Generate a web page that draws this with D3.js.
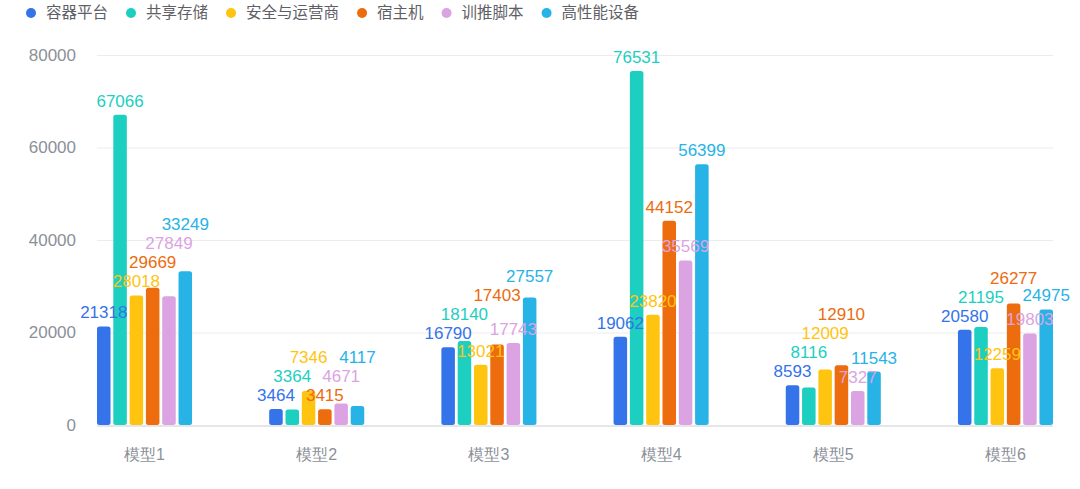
<!DOCTYPE html>
<html>
<head>
<meta charset="utf-8">
<script src="https://cdn.jsdelivr.net/npm/d3@7"></script>
<style>
  body { margin: 0; background: #fff; }
  svg { display: block; font-family: "Liberation Sans", "Noto Sans CJK SC", sans-serif; }
  .grid line { stroke: #ececec; }
  .grid .domain { display: none; }
</style>
</head>
<body>
<div id="chart"></div>
<script>
// categories and series
var models = ["模型1", "模型2", "模型3", "模型4", "模型5", "模型6"];
var seriesNames = ["容器平台", "共享存储", "安全与运营商", "宿主机", "训推脚本", "高性能设备"];
var colors = ["#3473ea", "#1dcfc0", "#ffc410", "#ec6c0e", "#dca3e3", "#27b3e6"];

// note: "sharedStorage" is taken by the browser (window.sharedStorage)
var containerVals = [21318, 3464, 16790, 19062, 8593, 20580];
var storageVals   = [67066, 3364, 18140, 76531, 8116, 21195];
var securityVals  = [28018, 7346, 13021, 23820, 12009, 12259];
var hostVals      = [29669, 3415, 17403, 44152, 12910, 26277];
var scriptVals    = [27849, 4671, 17743, 35569, 7327, 19803];
var hpcVals       = [33249, 4117, 27557, 56399, 11543, 24975];
var yTicks = [0, 20000, 40000, 60000, 80000];

var allSeries = [containerVals, storageVals, securityVals, hostVals, scriptVals, hpcVals];

var W = 1080, H = 489;
var svg = d3.select("#chart").append("svg").attr("width", W).attr("height", H);

//----------------SCALES----------------//
var plotLeft = 97, plotRight = 1053;
var x0 = d3.scaleBand()
  .domain(models)
  .range([plotLeft, plotRight])
  .paddingInner(0.448)
  .paddingOuter(0);

var x1 = d3.scaleBand()
  .domain(d3.range(seriesNames.length))
  .range([0, x0.bandwidth()])
  .paddingInner(0.17);

var y = d3.scaleLinear().domain([0, 80000]).range([425, 55]);

//----------------GRID + AXES----------------//
svg.append("g")
  .attr("class", "grid")
  .attr("transform", "translate(" + plotLeft + ",0)")
  .call(d3.axisLeft(y).tickValues(yTicks.slice(1)).tickFormat("").tickSize(-(plotRight - plotLeft)));

svg.append("line")
  .attr("x1", plotLeft).attr("x2", plotRight)
  .attr("y1", y(0) + 1).attr("y2", y(0) + 1)
  .attr("stroke", "#e6e6e6").attr("stroke-width", 2);

var yAxis = svg.append("g")
  .attr("transform", "translate(76,0)")
  .call(d3.axisLeft(y).tickValues(yTicks).tickFormat(d3.format("d")).tickSize(0).tickPadding(0));
yAxis.select(".domain").remove();
yAxis.selectAll("text")
  .attr("fill", "#8c9099")
  .style("font-size", "17px")
  .style("font-family", "inherit");

var xAxis = svg.append("g")
  .attr("transform", "translate(0," + (y(0) + 24) + ")")
  .call(d3.axisBottom(x0).tickSize(0).tickPadding(0));
xAxis.select(".domain").remove();
xAxis.selectAll("text")
  .attr("fill", "#8c9099")
  .style("font-size", "16px")
  .style("font-family", "inherit");

//----------------BARS----------------//
var groups = svg.selectAll(".group")
  .data(models)
  .enter().append("g")
  .attr("class", "group")
  .attr("transform", function(d) { return "translate(" + x0(d) + ",0)"; });

groups.selectAll("rect")
  .data(function(d, i) {
    return allSeries.map(function(vals, k) { return { k: k, v: vals[i] }; });
  })
  .enter().append("rect")
  .attr("x", function(d) { return x1(d.k); })
  .attr("y", function(d) { return y(d.v); })
  .attr("width", x1.bandwidth())
  .attr("height", function(d) { return y(0) - y(d.v); })
  .attr("rx", 2.5)
  .attr("fill", function(d) { return colors[d.k]; });

//----------------LABELS (dodge upward on overlap)----------------//
var hitY = 16.5, stepY = 19;
models.forEach(function(m, i) {
  var placed = [];
  allSeries.forEach(function(vals, k) {
    var v = vals[i];
    var cx = x0(m) + x1(k) + x1.bandwidth() / 2;
    var t = svg.append("text")
      .attr("x", cx)
      .attr("text-anchor", "middle")
      .attr("fill", colors[k])
      .style("font-size", "17px")
      .text(v);
    var w = t.node().getComputedTextLength();
    var ly = y(v) - 8;
    var moved = true;
    while (moved) {
      moved = false;
      placed.forEach(function(p) {
        if (Math.abs(p.x - cx) < (p.w + w) / 2 && Math.abs(p.y - ly) < hitY) {
          ly = p.y - stepY;
          moved = true;
        }
      });
    }
    t.attr("y", ly);
    placed.push({ x: cx, y: ly, w: w });
  });
});

//----------------LEGEND----------------//
var legend = svg.append("g").attr("transform", "translate(0,13)");
var lx = 31;
seriesNames.forEach(function(s, k) {
  var item = legend.append("g").attr("transform", "translate(" + lx + ",0)");
  item.append("circle").attr("r", 5).attr("fill", colors[k]);
  var t = item.append("text")
    .attr("x", 15)
    .attr("dy", "0.35em")
    .attr("fill", "#5e6066")
    .style("font-size", "15.5px")
    .text(s);
  lx += 15 + t.node().getComputedTextLength() + 23;
});
</script>
</body>
</html>
